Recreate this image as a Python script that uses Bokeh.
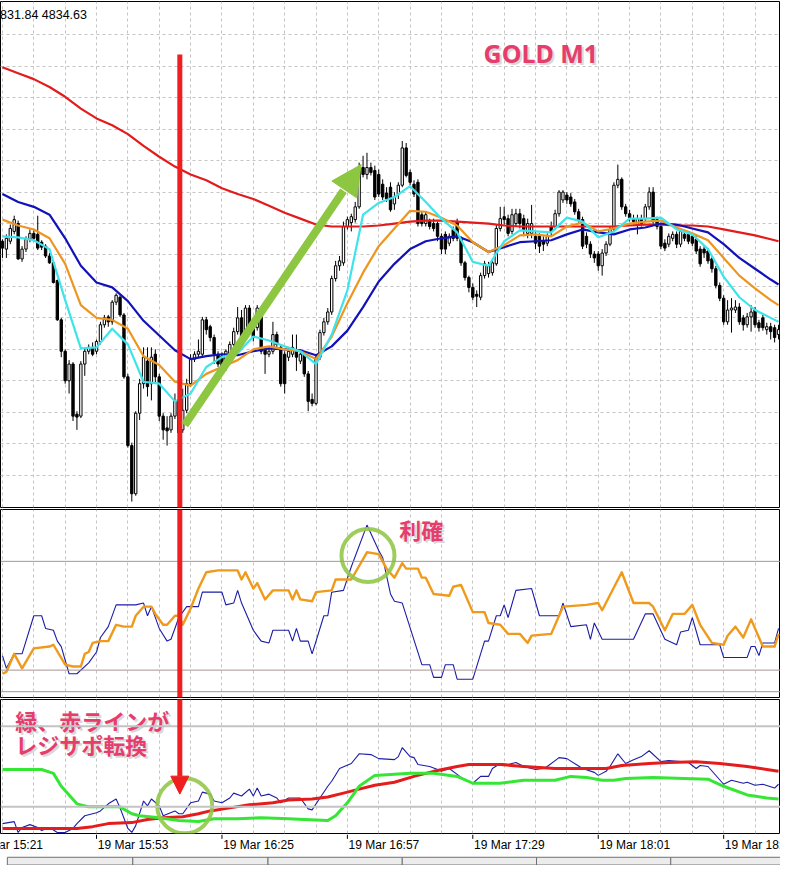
from bokeh.plotting import figure
from bokeh.layouts import column
from bokeh.models import Range1d, FixedTicker, Span, Arrow, NormalHead, Grid
from bokeh.core.properties import value
from bokeh.embed import file_html
from bokeh.resources import INLINE

# ---------------- data ----------------
# M1 candles, index = minutes since 19 Mar 15:29
open_ = [4855.5,4854.7,4855.5,4856.5,4857.3,4853.7,4854.7,4855.7,4856.3,4856.2,4855.4,4855.0,4854.0,4853.3,4851.5,4847.5,4844.3,4841.3,4843.0,4837.9,
         4837.7,4843.0,4844.3,4844.7,4844.3,4845.3,4847.0,4847.8,4847.3,4849.3,4849.8,4848.0,4841.7,4834.7,4829.8,4838.0,4841.0,4843.3,4841.0,4844.0,
         4841.7,4837.7,4836.5,4836.3,4837.7,4839.3,4836.3,4838.3,4841.0,4843.5,4844.0,4844.0,4847.5,4846.8,4845.7,4844.0,4843.8,4842.7,4844.0,4845.0,
         4846.3,4847.7,4845.7,4848.7,4846.7,4846.7,4848.0,4844.5,4844.0,4844.3,4846.0,4844.7,4844.0,4843.7,4844.0,4844.3,4843.3,4844.0,4842.0,4839.4,
         4839.0,4843.7,4846.2,4847.3,4848.3,4851.7,4853.0,4853.3,4857.0,4857.4,4857.7,4859.0,4863.0,4862.3,4863.0,4862.7,4862.3,4861.3,4860.4,4861.0,
         4859.3,4860.3,4861.2,4865.0,4862.5,4861.3,4861.5,4858.2,4857.3,4857.5,4857.3,4857.3,4856.0,4856.2,4855.3,4856.7,4857.5,4855.8,4853.3,4851.8,
         4850.8,4850.1,4849.8,4852.0,4852.2,4852.3,4853.2,4856.8,4858.0,4857.8,4856.5,4857.3,4858.3,4857.8,4856.3,4856.3,4856.0,4856.0,4855.5,4855.3,
         4857.0,4857.0,4858.3,4859.7,4860.2,4860.0,4859.5,4858.5,4857.7,4856.0,4855.2,4854.2,4854.2,4853.0,4854.3,4855.2,4856.7,4861.2,4861.8,4859.0,
         4858.3,4857.8,4857.2,4857.8,4857.8,4859.0,4860.5,4857.7,4857.0,4855.3,4855.2,4855.8,4856.2,4855.2,4856.2,4856.2,4856.0,4855.7,4854.7,4854.7,
         4854.5,4853.7,4852.7,4851.0,4849.7,4847.3,4848.5,4848.5,4848.8,4847.7,4847.0,4847.8,4848.5,4847.2,4847.7,4846.5,4846.8,4846.7,4846.0]
high = [4855.7,4856.2,4857.2,4858.1,4857.6,4855.0,4856.0,4856.7,4856.6,4858.1,4855.6,4855.2,4854.3,4853.5,4851.6,4847.7,4844.5,4843.4,4843.2,4838.2,
        4843.3,4844.7,4845.0,4845.2,4845.5,4847.3,4848.0,4848.0,4849.5,4850.2,4850.0,4848.2,4842.0,4835.0,4838.2,4841.5,4844.7,4844.7,4844.7,4844.5,
        4842.0,4838.0,4837.7,4838.0,4840.0,4839.5,4840.5,4841.5,4844.0,4844.3,4845.5,4847.8,4847.8,4847.0,4846.0,4844.3,4844.2,4844.5,4845.3,4846.7,
        4848.8,4848.5,4849.0,4849.0,4847.0,4849.0,4848.3,4844.8,4844.7,4847.3,4846.3,4845.0,4844.3,4844.7,4846.0,4846.0,4844.5,4844.3,4842.3,4840.0,
        4844.0,4846.5,4847.7,4848.7,4852.0,4853.5,4854.0,4857.5,4858.0,4858.3,4859.5,4863.5,4864.2,4864.5,4863.5,4863.2,4862.8,4861.8,4861.0,4861.5,
        4860.5,4861.5,4865.7,4865.5,4862.8,4861.7,4861.8,4858.5,4858.5,4857.8,4857.8,4857.5,4856.3,4856.5,4856.3,4857.0,4857.8,4856.0,4853.5,4852.0,
        4851.2,4850.5,4852.3,4853.5,4853.4,4853.7,4857.2,4859.0,4859.0,4858.2,4858.8,4858.8,4858.8,4858.2,4857.8,4859.2,4856.5,4856.3,4856.0,4856.3,
        4857.5,4858.7,4860.7,4860.7,4860.5,4860.4,4859.8,4858.8,4858.0,4856.4,4855.5,4854.5,4854.5,4854.7,4855.5,4857.0,4861.5,4863.3,4862.0,4859.3,
        4858.7,4858.2,4858.2,4858.2,4859.3,4861.0,4861.0,4858.0,4857.3,4855.7,4856.3,4856.5,4856.5,4856.8,4856.5,4856.5,4856.3,4856.0,4855.0,4855.0,
        4854.8,4854.0,4853.0,4851.3,4850.0,4849.5,4849.7,4849.5,4849.2,4848.0,4848.2,4849.0,4848.8,4847.5,4848.0,4847.2,4847.2,4847.0,4847.0]
low = [4853.8,4853.8,4855.2,4856.2,4853.6,4853.4,4854.4,4855.4,4855.5,4854.6,4854.6,4853.8,4853.2,4851.2,4847.4,4843.7,4841.0,4840.0,4837.2,4836.3,
       4837.5,4841.8,4844.0,4843.8,4844.0,4845.0,4846.7,4846.8,4847.0,4849.0,4847.8,4841.5,4834.5,4829.0,4829.6,4837.3,4840.5,4839.7,4839.3,4841.0,
       4837.2,4835.3,4834.7,4836.0,4837.4,4834.3,4836.0,4838.0,4840.7,4843.2,4843.7,4843.8,4846.0,4845.3,4843.0,4842.7,4842.5,4842.3,4843.7,4844.8,
       4846.0,4845.0,4845.4,4846.0,4845.3,4846.4,4844.0,4842.0,4843.7,4844.0,4844.5,4840.7,4840.0,4843.3,4843.7,4842.3,4843.0,4841.7,4838.2,4838.7,
       4838.8,4843.4,4845.9,4847.0,4848.0,4851.4,4852.5,4853.0,4856.7,4856.5,4857.4,4858.8,4862.0,4861.8,4862.2,4859.7,4860.0,4859.7,4859.5,4858.5,
       4858.7,4859.8,4861.0,4862.0,4861.2,4860.0,4857.0,4857.0,4857.0,4856.7,4856.5,4855.5,4854.2,4854.2,4855.0,4855.5,4855.5,4853.0,4851.5,4850.3,
       4849.5,4848.8,4849.5,4851.7,4851.8,4852.0,4853.0,4856.5,4857.2,4856.0,4856.2,4857.0,4856.8,4856.0,4855.8,4855.8,4854.7,4854.3,4854.5,4855.0,
       4856.0,4856.7,4858.0,4859.4,4859.3,4859.0,4858.2,4857.4,4854.7,4854.8,4853.8,4853.3,4852.5,4852.0,4854.0,4855.0,4856.4,4860.9,4858.7,4858.0,
       4857.5,4857.2,4856.2,4857.0,4857.5,4858.7,4857.2,4856.7,4854.7,4854.5,4854.9,4855.5,4854.8,4854.9,4855.5,4855.2,4855.0,4854.2,4852.9,4853.8,
       4853.2,4852.3,4850.7,4849.4,4847.0,4847.0,4846.2,4848.2,4847.0,4846.4,4846.7,4846.3,4846.7,4846.3,4846.4,4846.0,4845.5,4845.2,4845.5]
close = [4854.8,4855.8,4856.8,4857.7,4853.7,4854.7,4855.7,4856.3,4855.8,4854.8,4854.9,4854.0,4853.3,4851.3,4847.5,4844.3,4841.3,4843.0,4837.7,4837.6,
         4843.0,4844.3,4844.7,4844.0,4845.3,4847.0,4847.7,4847.3,4849.3,4850.0,4848.0,4841.7,4834.7,4829.8,4838.0,4841.0,4843.7,4840.7,4843.7,4841.7,
         4837.7,4836.3,4836.2,4837.7,4839.3,4836.0,4838.3,4841.0,4843.5,4844.0,4844.3,4847.5,4846.5,4845.7,4844.0,4843.0,4842.8,4844.3,4845.0,4846.3,
         4847.7,4845.3,4848.7,4846.3,4845.7,4848.7,4844.3,4844.0,4844.3,4846.0,4845.0,4841.0,4841.0,4844.3,4844.7,4843.7,4844.0,4842.0,4839.2,4839.0,
         4843.7,4846.2,4847.3,4848.3,4851.7,4853.0,4853.5,4857.0,4857.7,4858.0,4859.0,4863.0,4862.3,4863.0,4862.5,4860.0,4860.3,4860.0,4859.8,4858.7,
         4860.0,4861.2,4865.0,4862.2,4861.5,4860.3,4857.3,4857.3,4858.2,4857.0,4856.8,4856.0,4854.7,4854.7,4856.0,4855.8,4855.8,4853.3,4851.8,4850.8,
         4849.8,4849.9,4852.0,4853.2,4853.0,4853.3,4856.8,4857.8,4857.7,4856.3,4858.2,4858.3,4857.3,4856.7,4857.3,4857.3,4855.3,4855.0,4855.2,4856.0,
         4856.5,4858.3,4860.5,4860.5,4859.7,4859.3,4858.5,4857.7,4855.0,4855.2,4854.2,4853.8,4853.0,4854.3,4855.2,4856.7,4861.2,4861.8,4859.0,4858.3,
         4857.9,4857.5,4857.8,4857.3,4859.0,4860.5,4857.5,4857.0,4855.0,4854.8,4856.0,4856.2,4855.2,4856.5,4855.8,4855.5,4855.3,4854.5,4853.2,4854.3,
         4853.5,4852.7,4851.0,4849.7,4847.3,4848.5,4848.7,4848.8,4847.3,4847.0,4847.8,4848.3,4847.0,4846.7,4846.7,4846.8,4846.3,4845.7,4846.5]

# moving averages sampled every 4 minutes
ma_t = [0,4,8,12,16,20,24,28,32,36,40,44,48,52,56,60,64,68,72,76,80,84,88,92,96,100,104,108,112,116,120,124,128,132,136,140,144,148,152,156,160,164,168,172,176,180,184,188,192,196,198]
ma_red = [4873.2,4872.6,4872.0,4871.2,4870.2,4869.0,4868.0,4867.3,4866.4,4865.2,4864.1,4863.1,4862.3,4861.7,4860.9,4860.3,4859.8,4859.1,4858.4,4857.8,
          4857.2,4857.0,4857.0,4857.0,4857.1,4857.3,4857.5,4857.6,4857.6,4857.5,4857.4,4857.3,4857.1,4857.0,4857.0,4857.0,4857.0,4857.0,4857.0,4857.0,
          4857.1,4857.2,4857.2,4857.1,4857.1,4857.0,4856.7,4856.4,4856.1,4855.7,4855.5]
ma_blue = [4860.3,4859.5,4859.0,4858.2,4855.8,4853.0,4851.3,4850.8,4849.4,4847.4,4845.9,4844.4,4843.5,4843.8,4844.0,4843.9,4844.3,4844.6,4844.5,4844.4,
           4843.9,4844.8,4846.4,4848.8,4851.4,4853.2,4854.7,4855.5,4855.8,4856.0,4855.4,4854.4,4854.9,4855.4,4855.5,4855.6,4856.2,4856.7,4856.4,4856.2,
           4856.7,4856.9,4857.3,4857.2,4856.8,4856.4,4855.2,4853.8,4852.7,4851.6,4851.1]
ma_orange = [4857.7,4857.1,4856.7,4855.8,4853.2,4849.0,4847.7,4847.5,4846.6,4843.8,4842.9,4841.2,4840.8,4842.0,4842.7,4843.4,4844.5,4844.8,4844.5,4844.3,
             4843.5,4845.8,4849.2,4852.3,4855.0,4856.8,4858.6,4858.5,4857.9,4857.1,4855.4,4854.4,4855.1,4856.1,4856.2,4856.0,4857.0,4857.4,4856.5,4856.8,
             4857.3,4857.5,4857.6,4856.9,4856.3,4855.6,4853.8,4852.0,4850.7,4849.5,4849.0]
ma_cyan = [4856.0,4855.9,4855.6,4854.7,4849.5,4844.6,4844.7,4846.6,4845.0,4841.2,4841.0,4839.2,4840.0,4842.7,4843.7,4844.1,4845.8,4845.4,4844.8,4844.3,
           4843.0,4846.0,4850.5,4858.2,4859.4,4860.0,4861.1,4859.5,4857.8,4856.4,4853.4,4853.0,4855.5,4856.6,4856.5,4856.4,4857.9,4857.5,4855.9,4856.5,
           4857.8,4857.8,4857.9,4856.7,4856.2,4854.7,4851.9,4849.8,4848.5,4847.7,4847.3]

# oscillator 1 (0-100)
osc_main_t = [0,1,3,5,8,10,11,13,14,15,17,19,22,24,25,27,29,32,34,36,37,38,40,42,43,45,47,50,51,54,56,57,59,60,61,64,66,68,69,73,
              74,75,76,78,79,82,83,84,87,89,93,96,97,99,100,102,107,109,110,112,113,115,116,120,123,124,126,127,128,129,131,135,137,142,143,
              145,149,150,151,153,155,157,161,164,166,169,172,173,175,176,178,183,184,190,191,192,193,194,197,198]
osc_main = [28,21,29,29,50,50,43,42,36,33,18,18,24,30,38,44,56,56,56,57,50,55,43,36,37,49,55,55,63,63,63,56,57,64,57,42,36,35,42,42,
            36,43,36,36,29,50,50,63,64,77,100,86,82,62,58,57,23,23,16,16,23,23,15,15,36,36,50,50,56,49,64,65,50,50,57,
            44,45,37,46,37,37,37,37,51,51,37,34,41,42,49,34,34,27,27,33,33,28,35,35,43]
osc_sig_t = [0,1,3,5,8,12,13,16,18,20,21,22,23,25,27,29,31,33,34,36,38,39,41,42,44,45,46,48,50,52,55,60,61,62,64,65,67,69,73,74,
             75,76,79,80,84,85,89,93,96,98,100,102,103,106,107,108,110,114,115,117,120,123,124,127,129,132,134,135,140,142,143,149,152,153,158,
             161,165,166,169,171,174,176,178,181,184,185,187,189,191,193,194,197,198]
osc_sig = [18,19,29,21,32,33,34,23,22,22,29,30,35,36,36,45,44,44,50,55,55,51,45,45,50,50,45,54,65,74,75,75,70,74,65,68,59,64,64,59,
           64,59,58,63,64,70,70,85,84,76,71,79,76,76,71,71,62,61,66,67,52,52,46,45,40,40,35,39,40,50,55,56,57,53,74,
           57,57,55,42,51,51,56,45,35,34,39,44,38,48,38,33,33,40]
osc_levels = [80, 20]

# oscillator 2
ind_green_t = [0,10,13,15,19,22,30,33,35,40,45,50,54,60,66,73,77,83,85,88,91,95,100,104,110,116,120,127,133,141,145,149,153,156,159,166,174,180,184,190,195,198]
ind_green = [48.5,48.5,46.6,40.2,31.5,30.0,30.0,26.6,25.6,24.6,23.2,22.7,24.1,24.1,24.6,24.1,23.7,23.2,25.6,32.0,40.2,45.6,46.1,46.6,46.6,
             45.1,41.7,41.7,43.2,43.2,45.1,44.6,43.2,43.2,44.1,44.6,44.1,43.7,40.2,35.9,34.4,33.9]
ind_red_t = [0,19,23,27,33,37,41,46,50,53,58,63,69,73,79,83,87,91,95,100,105,110,116,119,127,133,141,154,158,165,170,177,183,190,195,198]
ind_red = [19.3,19.3,20.2,21.7,22.2,23.7,24.6,25.1,26.6,28.0,29.5,31.0,32.0,33.4,33.9,34.9,36.8,38.8,40.7,42.2,45.1,47.6,50.0,51.0,51.0,
           50.0,49.0,49.0,50.5,51.5,52.0,52.4,51.5,50.0,48.5,47.6]
ind_blue_t = [0,3,4,5,7,9,10,12,14,16,18,19,21,24,25,27,29,30,32,33,34,36,37,38,40,41,44,45,46,48,50,51,53,54,56,58,59,61,63,64,
              65,66,68,70,71,73,76,78,79,81,83,84,86,89,91,94,96,100,101,102,104,105,106,109,111,112,114,116,117,120,122,124,125,127,129,
              131,133,136,138,139,142,144,148,151,152,154,155,157,159,161,163,165,168,170,173,175,177,178,180,184,186,189,190,192,194,197,198]
ind_blue = [21.7,22.7,17.3,19.8,21.2,19.8,18.3,19.8,17.3,17.3,19.3,21.7,25.6,27.1,28.0,31.5,33.9,29.5,19.3,17.3,20.7,32.9,30.5,33.9,30.5,
            25.6,28.0,26.6,26.6,32.0,32.9,37.3,36.3,32.9,32.0,34.4,36.8,35.4,38.8,35.4,39.3,35.4,36.3,34.4,32.0,34.4,34.4,29.0,28.5,34.4,
            40.2,42.7,49.0,51.5,56.3,55.9,53.9,53.4,54.9,59.3,54.9,54.4,51.0,50.0,48.5,47.6,49.0,46.1,44.6,41.7,45.1,45.1,49.0,51.5,51.0,
            52.0,50.0,48.5,49.0,50.0,54.4,53.9,49.0,47.1,45.6,47.6,50.0,56.3,51.5,53.4,54.9,57.8,52.4,52.9,52.4,52.0,49.0,50.5,50.0,41.2,
            43.2,41.7,42.2,40.7,41.2,39.3,41.2]
ind_levels = [70, 30]

tick_t = [-8, 24, 56, 88, 120, 152, 184]
tick_labels = ["19 Mar 15:21", "19 Mar 15:53", "19 Mar 16:25", "19 Mar 16:57", "19 Mar 17:29", "19 Mar 18:01", "19 Mar 18:33"]

# ---------------- styling ----------------
W = 780
XR = (-0.5, 198.5)
GRID_T = list(range(0, 199, 8))
PRICE_GRID = [4876.5 - 3.2 * k for k in range(15)]
PINK = "#e63d6d"
GREEN_ANN = "#8dc641"
RED_ANN = "#f01e1e"
EVENT_T = 45.25
CJK = value("Noto Sans CJK JP")


def pane(height, yr, top=1, bottom=1):
    p = figure(width=W, height=height, x_range=Range1d(*XR), y_range=Range1d(*yr),
               x_axis_location=None, y_axis_location=None, toolbar_location=None,
               output_backend="svg", tools="", min_border_left=0, min_border_right=0,
               min_border_top=top, min_border_bottom=bottom)
    p.xgrid.visible = False
    p.ygrid.visible = False
    p.outline_line_color = "black"
    p.outline_line_width = 1
    p.background_fill_color = "white"
    p.border_fill_color = "white"
    p.add_layout(Grid(dimension=0, ticker=FixedTicker(ticks=GRID_T), grid_line_color="#c4c4c4",
                      grid_line_dash="3 3", grid_line_width=1))
    return p


def shadow_text(p, x, y, txt, size, font):
    p.text(x=[x], y=[y], text=[txt], text_font=font, text_font_size=size, text_font_style="bold",
           text_color="#c8c8c8", text_alpha=0.7, text_align="left", text_baseline="middle",
           x_offset=2, y_offset=2)
    p.text(x=[x], y=[y], text=[txt], text_font=font, text_font_size=size, text_font_style="bold",
           text_color=PINK, text_align="left", text_baseline="middle")


# ---------------- main price pane ----------------
p1 = pane(508, (4828.4, 4879.9))
p1.add_layout(Grid(dimension=1, ticker=FixedTicker(ticks=PRICE_GRID), grid_line_color="#c4c4c4",
                   grid_line_dash="3 3", grid_line_width=1))
idx = list(range(len(close)))
p1.segment(x0=idx, y0=low, x1=idx, y1=high, line_color="black", line_width=1)
bear = [i for i in idx if close[i] < open_[i]]
bull = [i for i in idx if close[i] >= open_[i]]
p1.vbar(x=bear, width=0.6, top=[open_[i] for i in bear], bottom=[close[i] for i in bear],
        fill_color="black", line_color="black", line_width=1)
p1.vbar(x=bull, width=0.6, top=[close[i] for i in bull], bottom=[open_[i] for i in bull],
        fill_color="white", line_color="black", line_width=1)
p1.line(ma_t, ma_red, line_color="#e31b1b", line_width=2.2, line_join="round")
p1.line(ma_t, ma_blue, line_color="#1212b8", line_width=2.2, line_join="round")
p1.line(ma_t, ma_orange, line_color="#ee951f", line_width=2.2, line_join="round")
p1.line(ma_t, ma_cyan, line_color="#3fe3ea", line_width=2.2, line_join="round")

# annotations
p1.segment(x0=[EVENT_T], y0=[4874.5], x1=[EVENT_T], y1=[4828.0], line_color=RED_ANN, line_width=5)
GA = (46.5, 4836.8, 91.5, 4863.3)
frac = 0.9
p1.segment(x0=[GA[0]], y0=[GA[1]], x1=[GA[0] + frac * (GA[2] - GA[0])], y1=[GA[1] + frac * (GA[3] - GA[1])],
           line_color=GREEN_ANN, line_width=8)
p1.add_layout(Arrow(x_start=GA[0], y_start=GA[1], x_end=GA[2], y_end=GA[3], line_alpha=0,
                    end=NormalHead(size=30, fill_color=GREEN_ANN, line_color=GREEN_ANN)))
shadow_text(p1, 122.75, 4874.7, "GOLD M1", "25px", value("Noto Sans"))
p1.text(x=[-0.6], y=[4878.5], text=["831.84 4834.63"], text_font=value("Liberation Sans"),
        text_font_size="12.5px", text_color="black", text_align="left", text_baseline="middle")

# ---------------- oscillator pane ----------------
p2 = pane(190, (4.9, 108.6))
for lv in osc_levels:
    p2.add_layout(Span(location=lv, dimension="width", line_color="#a89494", line_width=1))
p2.add_layout(Span(location=8.1, dimension="width", line_color="#a89494", line_width=1))
p2.line(osc_main_t, osc_main, line_color="#1c1ca6", line_width=1.1)
p2.line(osc_sig_t, osc_sig, line_color="#f09a1c", line_width=2.4, line_join="round")
p2.add_layout(Span(location=EVENT_T, dimension="height", line_color=RED_ANN, line_width=5))
p2.scatter(x=[93.25], y=[83.2], marker="circle", size=53, fill_color=None,
           line_color="#93c84a", line_width=4, line_alpha=0.9)
shadow_text(p2, 101.25, 97.8, "利確", "22px", CJK)

# ---------------- second indicator pane ----------------
p3 = pane(136, (16.8, 83.2))
for lv in ind_levels:
    p3.add_layout(Span(location=lv, dimension="width", line_color="#c3c3c3", line_width=2))
p3.line(ind_blue_t, ind_blue, line_color="#1c1ca6", line_width=1.1)
p3.line(ind_red_t, ind_red, line_color="#e41c1c", line_width=3, line_join="round")
p3.line(ind_green_t, ind_green, line_color="#35e635", line_width=3, line_join="round")
p3.add_layout(Arrow(x_start=EVENT_T, y_start=84.0, x_end=EVENT_T, y_end=36.3, line_color=RED_ANN,
                    line_width=5, end=NormalHead(size=18, fill_color=RED_ANN, line_color=RED_ANN)))
p3.scatter(x=[46.5], y=[30.5], marker="circle", size=55, fill_color=None,
           line_color="#93c84a", line_width=4, line_alpha=0.9)
shadow_text(p3, 3.25, 72.9, "緑、赤ラインが", "22px", CJK)
shadow_text(p3, 3.25, 61.2, "レジサポ転換", "22px", CJK)

# ---------------- time axis strip ----------------
p4 = figure(width=W, height=31, x_range=Range1d(*XR), y_range=Range1d(32, 0),
            x_axis_location=None, y_axis_location=None, toolbar_location=None,
            output_backend="svg", tools="", min_border=0)
p4.xgrid.visible = False
p4.ygrid.visible = False
p4.outline_line_color = None
p4.background_fill_color = "white"
p4.border_fill_color = "white"
p4.segment(x0=tick_t, y0=[0] * len(tick_t), x1=tick_t, y1=[4.5] * len(tick_t), line_color="black")
p4.text(x=[t + 0.3 for t in tick_t], y=[3.5] * len(tick_t), text=tick_labels, text_align="left",
        text_baseline="top", text_font=value("Liberation Sans"), text_font_size="12px", text_color="black")
TAB_EDGES = [1.25, 33.25, 67.75, 102.0, 136.25, 170.5, 204.0]
p4.quad(left=TAB_EDGES[:-1], right=TAB_EDGES[1:], top=[23.5] * 6, bottom=[31.5] * 6,
        fill_color="#ececec", line_color="#707070", line_width=1)

layout = column(p1, p2, p3, p4, spacing=0)
open("out.html", "w").write(file_html(layout, INLINE))
